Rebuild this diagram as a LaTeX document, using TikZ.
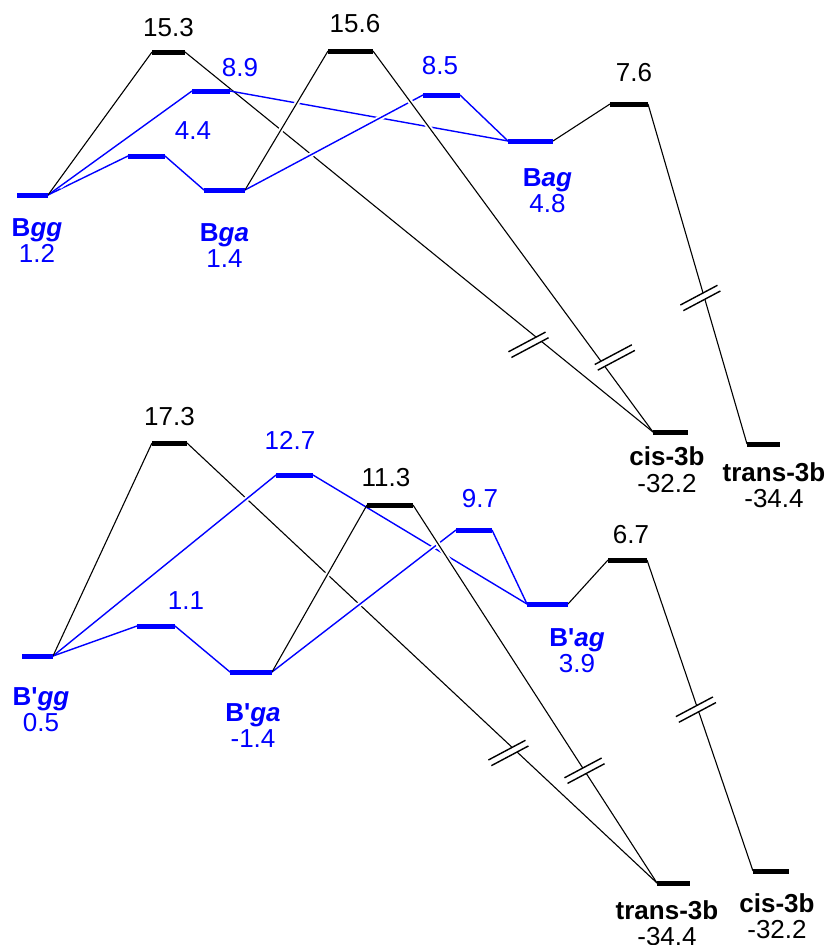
\documentclass[tikz,border=0pt]{standalone}
\usepackage{fontspec}
\setmainfont{Liberation Sans}
\usepackage{tikz}
\usetikzlibrary{positioning}
\definecolor{eblue}{RGB}{0,0,255}

\begin{document}
\begin{tikzpicture}[x=1pt, y=-1pt,
  font=\fontsize{26}{26.5}\selectfont,
  lvl/.style={fill, inner sep=0pt, outer sep=0pt, minimum height=5pt, minimum width=#1},
  lvlk/.style={lvl=#1, black},
  lvlb/.style={lvl=#1, eblue},
  conn/.style={line width=1.1pt, preaction={draw=white, line width=5pt, shorten <=14pt, shorten >=14pt}},
  connb/.style={conn, eblue, line width=1.4pt},
  val/.style={inner sep=0pt},
  lbl/.style={inner sep=0pt, align=center},
  brk/.pic={
    \fill[white] (-21,-3.2) rectangle (21,3.2);
    \draw[line width=1.4pt] (-21,-3.2) -- (21,-3.2) (-21,3.2) -- (21,3.2);
  }
]
\useasboundingbox (0,0) rectangle (828,945);

% upper diagram: B conformers
\node[lvlb=31pt] (gg) at (32.5,195) {};
\node[lvlb=37pt] (t1) at (146.5,156) {};
\node[lvlb=41pt] (ga) at (224.5,190) {};
\node[lvlb=38pt] (t2) at (211,91) {};
\node[lvlk=33pt] (t3) at (168.5,52) {};
\node[lvlk=45pt] (t4) at (350.5,51) {};
\node[lvlb=37pt] (t5) at (441.5,95) {};
\node[lvlb=45pt] (ag) at (530.5,141) {};
\node[lvlk=38pt] (t6) at (629,104) {};
\node[lvlk=35pt] (cisA) at (670.5,432) {};
\node[lvlk=33pt] (transA) at (763.5,444) {};

% lower diagram: B' conformers
\node[lvlb=31pt] (pgg) at (37.5,656) {};
\node[lvlb=38pt] (p1) at (156,626) {};
\node[lvlb=42pt] (pga) at (251,672) {};
\node[lvlb=37pt] (p2) at (294.5,475) {};
\node[lvlk=35pt] (p3) at (169.5,443) {};
\node[lvlk=46pt] (p4) at (390,505) {};
\node[lvlb=36pt] (p5) at (474,530) {};
\node[lvlb=41pt] (pag) at (547.5,604) {};
\node[lvlk=39pt] (p6) at (627.5,560) {};
\node[lvlk=33pt] (transB) at (673.5,883) {};
\node[lvlk=36pt] (cisB) at (771,871) {};

% long paths to products (underneath)
\draw[conn] (t3.east) -- coordinate[pos=.756] (m1) (cisA.west);
\draw[conn] (p3.east) -- coordinate[pos=.697] (m4) (transB.west);

% blue paths
\draw[connb] (gg.east) -- (t1.west);
\draw[connb] (t1.east) -- (ga.west);
\draw[connb] (gg.east) -- (t2.west);
\draw[connb] (t2.east) -- (ag.west);
\draw[connb] (ga.east) -- (t5.west);
\draw[connb] (t5.east) -- (ag.west);

\draw[connb] (pgg.east) -- (p1.west);
\draw[connb] (p1.east) -- (pga.west);
\draw[connb] (pgg.east) -- (p2.west);
\draw[connb] (p2.east) -- (pag.west);
\draw[connb] (pga.east) -- (p5.west);
\draw[connb] (p5.east) -- (pag.west);

% black paths
\draw[conn] (gg.east) -- (t3.west);
\draw[conn] (ga.east) -- (t4.west);
\draw[conn] (t4.east) -- coordinate[pos=.821] (m2) (cisA.west);
\draw[conn] (ag.east) -- (t6.west);
\draw[conn] (t6.east) -- coordinate[pos=.565] (m3) (transA.west);

\draw[conn] (pgg.east) -- (p3.west);
\draw[conn] (pga.east) -- (p4.west);
\draw[conn] (p4.east) -- coordinate[pos=.703] (m5) (transB.west);
\draw[conn] (pag.east) -- (p6.west);
\draw[conn] (p6.east) -- coordinate[pos=.478] (m6) (cisB.west);

% bars again on top
\foreach \n/\w in {gg/31,t1/37,ga/41,t2/38,t5/37,ag/45,pgg/31,p1/38,pga/42,p2/37,p5/36,pag/41}
  \node[lvlb=\w pt] at (\n) {};
\foreach \n/\w in {t3/33,t4/45,t6/38,cisA/35,transA/33,p3/35,p4/46,p6/39,transB/33,cisB/36}
  \node[lvlk=\w pt] at (\n) {};

% energies
\node[val, above=12.5pt of t3] (e153) {15.3};
\node[val, text=eblue, above=11.5pt of t2, xshift=29pt] (e89) {8.9};
\node[val, text=eblue, above=13.5pt of t1, xshift=46.5pt] (e44) {4.4};
\node[val, above=16pt of t4, xshift=4.5pt] (e156) {15.6};
\node[val, text=eblue, above=17.5pt of t5, xshift=-1.5pt] (e85) {8.5};
\node[val, above=19.5pt of t6, xshift=5pt] (e76) {7.6};

\node[val, above=14.5pt of p3] (e173) {17.3};
\node[val, text=eblue, above=22.5pt of p2, xshift=-4.5pt] (e127) {12.7};
\node[val, above=15.5pt of p4, xshift=-4pt] (e113) {11.3};
\node[val, text=eblue, above=13.5pt of p1, xshift=30pt] (e11) {1.1};
\node[val, text=eblue, above=19.5pt of p5, xshift=6pt] (e97) {9.7};
\node[val, above=13.5pt of p6, xshift=3.5pt] (e67) {6.7};

% conformer and product names
\node[lbl, text=eblue, below=20.5pt of gg, xshift=4.5pt] (lgg) {\textbf{B\textit{gg}}\\1.2};
\node[lbl, text=eblue, below=30.5pt of ga] (lga) {\textbf{B\textit{ga}}\\1.4};
\node[lbl, text=eblue, below=24.5pt of ag, xshift=17pt] (lag) {\textbf{B\textit{ag}}\\4.8};
\node[lbl, below=12pt of cisA, xshift=-3.5pt] (lcisA) {\textbf{cis-3b}\\-32.2};
\node[lbl, below=15.5pt of transA, xshift=10.5pt] (ltransA) {\textbf{trans-3b}\\-34.4};

\node[lbl, text=eblue, below=28.5pt of pgg, xshift=3.5pt] (lpgg) {\textbf{B\textquotesingle\textit{gg}}\\0.5};
\node[lbl, text=eblue, below=28.5pt of pga, xshift=2pt] (lpga) {\textbf{B\textquotesingle\textit{ga}}\\-1.4};
\node[lbl, text=eblue, below=21.5pt of pag, xshift=29.5pt] (lpag) {\textbf{B\textquotesingle\textit{ag}}\\3.9};
\node[lbl, below=14.5pt of transB, xshift=-6.5pt] (ltransB) {\textbf{trans-3b}\\-34.4};
\node[lbl, below=19.5pt of cisB, xshift=6pt] (lcisB) {\textbf{cis-3b}\\-32.2};

% axis breaks
\pic[rotate=28, xshift=-11.7pt] at (m1) {brk};
\pic[rotate=28, xshift=13.5pt] at (m2) {brk};
\pic[rotate=28, xshift=-4pt] at (m3) {brk};
\pic[rotate=28, xshift=-7pt] at (m4) {brk};
\pic[rotate=28] at (m5) {brk};
\pic[rotate=28, xshift=-2pt] at (m6) {brk};
\end{tikzpicture}
\end{document}
